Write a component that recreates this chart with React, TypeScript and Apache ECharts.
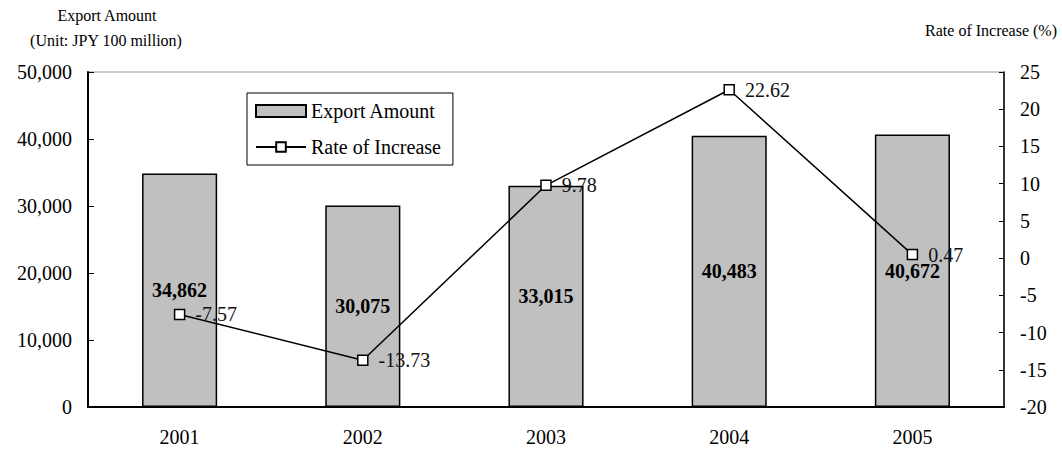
import React, { useEffect, useRef } from "react";
import * as echarts from "echarts";

const years = ["2001", "2002", "2003", "2004", "2005"];
const exportAmount = [34862, 30075, 33015, 40483, 40672];
const rateOfIncrease = [-7.57, -13.73, 9.78, 22.62, 0.47];

const FONT = "'Liberation Serif', 'Times New Roman', serif";

export default function App() {
  const ref = useRef<HTMLDivElement>(null);
  useEffect(() => {
    const chart = echarts.init(ref.current!, null, { renderer: "svg" });
    chart.setOption({
      animation: false,
      backgroundColor: "#fff",
      textStyle: { fontFamily: FONT, color: "#000" },
      grid: {
        left: 88,
        right: 58,
        top: 72,
        bottom: 43,
        show: true,
        borderColor: "#999",
        borderWidth: 1,
        backgroundColor: "transparent",
      },
      legend: {
        left: 247,
        top: 93,
        orient: "vertical",
        backgroundColor: "#fff",
        borderColor: "#000",
        borderWidth: 1,
        padding: [8, 12, 8, 8],
        itemWidth: 50,
        itemHeight: 12,
        itemGap: 16,
        textStyle: { fontFamily: FONT, fontSize: 20, color: "#000" },
        data: [
          { name: "Export Amount", icon: "rect" },
          { name: "Rate of Increase" },
        ],
      },
      xAxis: {
        type: "category",
        data: years,
        axisLine: { lineStyle: { color: "#000", width: 2 } },
        axisTick: { inside: true, length: 6, lineStyle: { color: "#000" } },
        axisLabel: { margin: 20, fontSize: 20, fontFamily: FONT, color: "#000" },
      },
      yAxis: [
        {
          type: "value",
          min: 0,
          max: 50000,
          interval: 10000,
          splitLine: { show: false },
          axisLine: { show: true, lineStyle: { color: "#000", width: 2 } },
          axisTick: { show: true, inside: true, length: 6, lineStyle: { color: "#000" } },
          axisLabel: {
            margin: 16,
            fontSize: 20,
            fontFamily: FONT,
            color: "#000",
            formatter: (v: number) => v.toLocaleString("en-US"),
          },
        },
        {
          type: "value",
          min: -20,
          max: 25,
          interval: 5,
          position: "right",
          splitLine: { show: false },
          axisLine: { show: true, lineStyle: { color: "#000", width: 1.5 } },
          axisTick: { show: true, inside: true, length: 5, lineStyle: { color: "#000" } },
          axisLabel: { margin: 16, fontSize: 20, fontFamily: FONT, color: "#000" },
        },
      ],
      series: [
        {
          name: "Export Amount",
          type: "bar",
          yAxisIndex: 0,
          data: exportAmount,
          barWidth: "41%",
          itemStyle: { color: "#c0c0c0", borderColor: "#000", borderWidth: 1.5 },
          label: {
            show: true,
            position: "inside",
            fontFamily: FONT,
            fontSize: 20,
            fontWeight: "bold",
            color: "#000",
            formatter: (p: any) => Number(p.value).toLocaleString("en-US"),
          },
          z: 2,
        },
        {
          name: "Rate of Increase",
          type: "line",
          yAxisIndex: 1,
          data: rateOfIncrease,
          symbol: "rect",
          symbolSize: 10,
          lineStyle: { color: "#000", width: 1.5 },
          itemStyle: { color: "#fff", borderColor: "#000", borderWidth: 1.5 },
          label: {
            show: true,
            position: "right",
            distance: 10,
            fontFamily: FONT,
            fontSize: 20,
            color: "#111",
            formatter: (p: any) => Number(p.value).toFixed(2),
          },
          z: 5,
        },
      ],
      graphic: [
        {
          type: "text",
          x: 107,
          y: 15,
          style: {
            text: "Export Amount",
            font: `16px ${FONT}`,
            fill: "#000",
            textAlign: "center",
            textVerticalAlign: "middle",
          },
        },
        {
          type: "text",
          x: 106,
          y: 40,
          style: {
            text: "(Unit: JPY 100 million)",
            font: `16px ${FONT}`,
            fill: "#000",
            textAlign: "center",
            textVerticalAlign: "middle",
          },
        },
        {
          type: "text",
          x: 1057,
          y: 30,
          style: {
            text: "Rate of Increase (%)",
            font: `16px ${FONT}`,
            fill: "#000",
            textAlign: "right",
            textVerticalAlign: "middle",
          },
        },
      ],
    });
    return () => chart.dispose();
  }, []);
  return (
    <div
      ref={ref}
      style={{ position: "fixed", left: 0, top: 0, width: 1062, height: 450 }}
    />
  );
}
